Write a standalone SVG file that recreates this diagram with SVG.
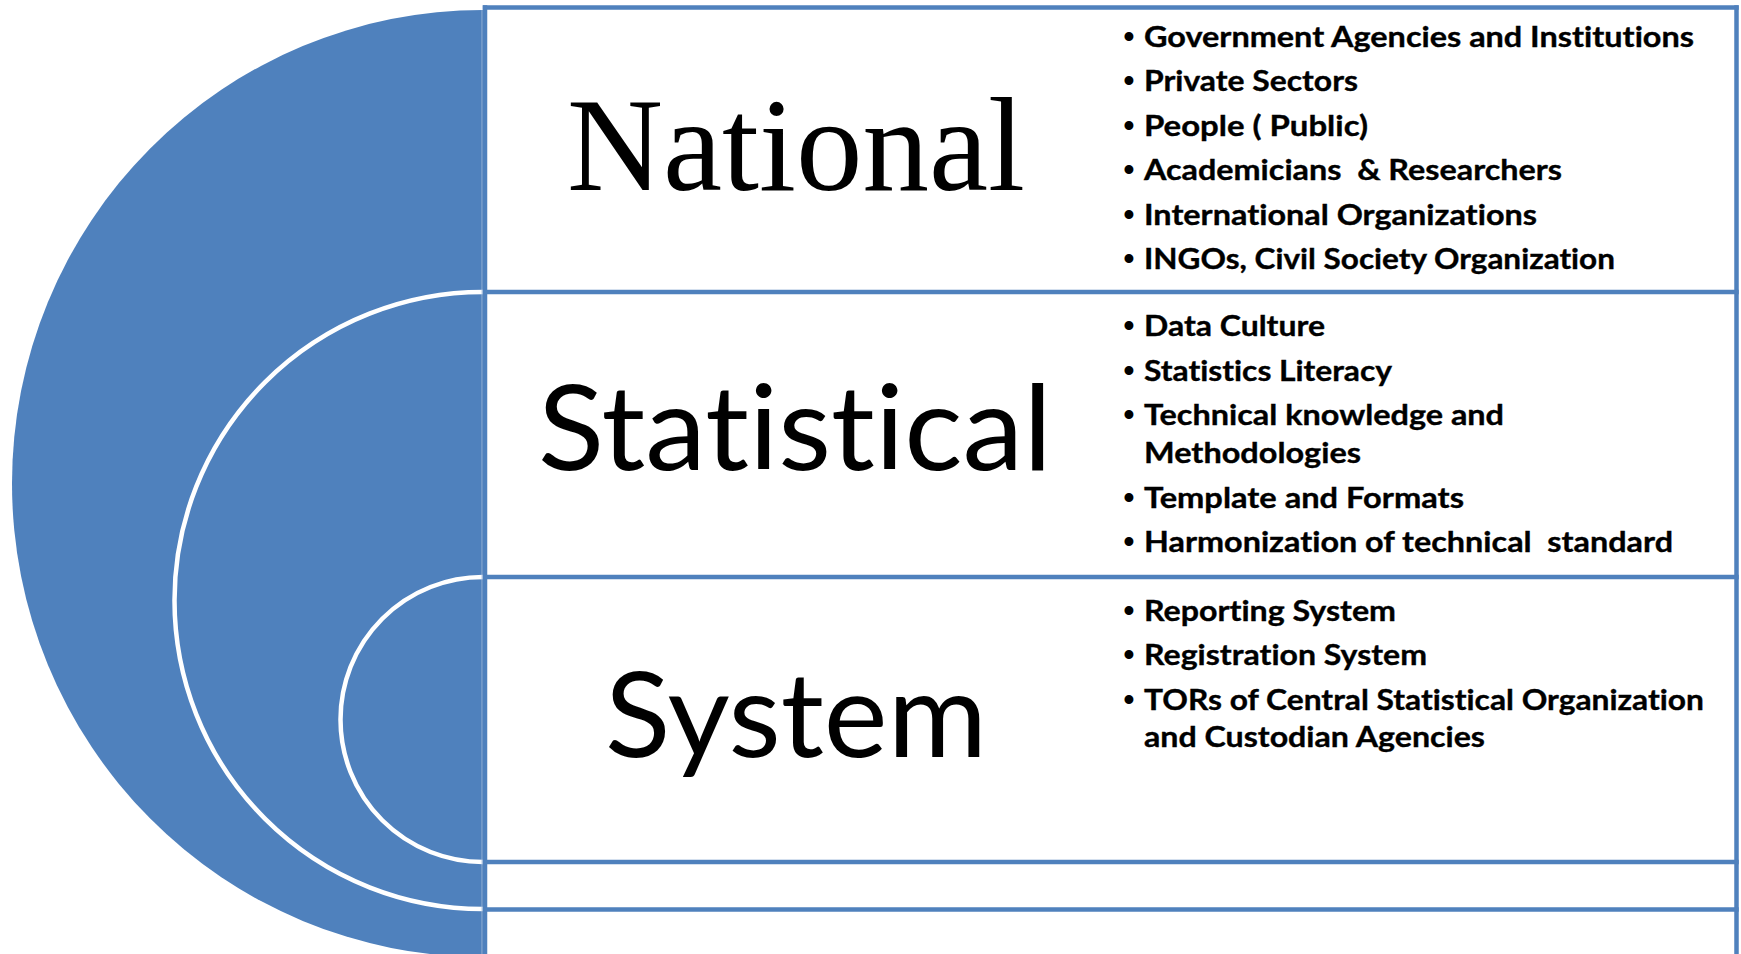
<svg xmlns="http://www.w3.org/2000/svg" width="1741" height="954" viewBox="0 0 1741 954">
  <style>
    .ring { fill: #4F81BD; stroke: none; }
    .ringEdge { fill: none; stroke: #FFFFFF; stroke-width: 4.5; }
    .box { fill: none; stroke: #4F81BD; stroke-width: 4.5; }
    .serifTitle { font-family: "Liberation Serif", "Times New Roman", serif; font-size: 133px; fill: #000; }
    .sansTitle { font-family: Lato, "Liberation Sans", sans-serif; font-size: 118px; fill: #000; font-variant-ligatures: none; }
    .item { font-family: Lato, "Liberation Sans", sans-serif; font-weight: bold; font-size: 28px; fill: #000; white-space: pre; font-variant-ligatures: none; stroke: #000; stroke-width: 0.35; }
    .bullet { font-family: "Liberation Sans", Arial, sans-serif; font-weight: bold; font-size: 31px; fill: #000; text-anchor: middle; }
  </style>
  <rect x="0" y="0" width="1741" height="954" fill="#FFFFFF"/>

  <g id="rings">
    <path id="ring-outer" class="ring" d="M 483 10 A 471 473.5 0 0 0 483 957 Z"/>
    <path id="ring-middle" class="ring" d="M 483 292 A 308.5 308.5 0 0 0 483 909 Z"/>
    <path class="ringEdge" d="M 483 292 A 308.5 308.5 0 0 0 483 909"/>
    <path id="ring-inner" class="ring" d="M 483 577 A 142.5 142.5 0 0 0 483 862 Z"/>
    <path class="ringEdge" d="M 483 577 A 142.5 142.5 0 0 0 483 862"/>
    <line x1="482" y1="10" x2="482" y2="954" stroke="#A9C0DD" stroke-width="0.8"/>
  </g>

  <g id="boxes">
    <line class="box" x1="485" y1="5.3" x2="485" y2="954"/>
    <line class="box" x1="1736.5" y1="5.3" x2="1736.5" y2="954"/>
    <line class="box" x1="482.8" y1="7.5" x2="1738.7" y2="7.5"/>
    <line class="box" x1="482.8" y1="292" x2="1738.7" y2="292"/>
    <line class="box" x1="482.8" y1="577" x2="1738.7" y2="577"/>
    <line class="box" x1="482.8" y1="862" x2="1738.7" y2="862"/>
    <line class="box" x1="482.8" y1="909.5" x2="1738.7" y2="909.5"/>
  </g>

  <g id="connectors"></g>

  <g id="node-national">
    <text class="serifTitle" x="796" y="190" text-anchor="middle">National</text>
    <text class="bullet" x="1129" y="46.5">•</text>
    <text class="item" x="1144" y="46.5" textLength="550" lengthAdjust="spacingAndGlyphs">Government Agencies and Institutions</text>
    <text class="bullet" x="1129" y="91">•</text>
    <text class="item" x="1144" y="91" textLength="214" lengthAdjust="spacingAndGlyphs">Private Sectors</text>
    <text class="bullet" x="1129" y="135.5">•</text>
    <text class="item" x="1144" y="135.5" textLength="224" lengthAdjust="spacingAndGlyphs">People ( Public)</text>
    <text class="bullet" x="1129" y="180">•</text>
    <text class="item" x="1144" y="180" textLength="418" lengthAdjust="spacingAndGlyphs">Academicians  &amp; Researchers</text>
    <text class="bullet" x="1129" y="224.5">•</text>
    <text class="item" x="1144" y="224.5" textLength="393" lengthAdjust="spacingAndGlyphs">International Organizations</text>
    <text class="bullet" x="1129" y="269">•</text>
    <text class="item" x="1144" y="269" textLength="471" lengthAdjust="spacingAndGlyphs">INGOs, Civil Society Organization</text>
  </g>

  <g id="node-statistical">
    <text class="sansTitle" x="538" y="470" textLength="514" lengthAdjust="spacingAndGlyphs">Statistical</text>
    <text class="bullet" x="1129" y="335.7">•</text>
    <text class="item" x="1144" y="335.7" textLength="181" lengthAdjust="spacingAndGlyphs">Data Culture</text>
    <text class="bullet" x="1129" y="380.5">•</text>
    <text class="item" x="1144" y="380.5" textLength="248" lengthAdjust="spacingAndGlyphs">Statistics Literacy</text>
    <text class="bullet" x="1129" y="425">•</text>
    <text class="item" x="1144" y="425" textLength="360" lengthAdjust="spacingAndGlyphs">Technical knowledge and</text>
    <text class="item" x="1144" y="462.7" textLength="217" lengthAdjust="spacingAndGlyphs">Methodologies</text>
    <text class="bullet" x="1129" y="508">•</text>
    <text class="item" x="1144" y="508" textLength="320" lengthAdjust="spacingAndGlyphs">Template and Formats</text>
    <text class="bullet" x="1129" y="551.7">•</text>
    <text class="item" x="1144" y="551.7" textLength="529" lengthAdjust="spacingAndGlyphs">Harmonization of technical  standard</text>
  </g>

  <g id="node-system">
    <text class="sansTitle" x="605" y="757" textLength="382" lengthAdjust="spacingAndGlyphs">System</text>
    <text class="bullet" x="1129" y="620.5">•</text>
    <text class="item" x="1144" y="620.5" textLength="252" lengthAdjust="spacingAndGlyphs">Reporting System</text>
    <text class="bullet" x="1129" y="665">•</text>
    <text class="item" x="1144" y="665" textLength="283" lengthAdjust="spacingAndGlyphs">Registration System</text>
    <text class="bullet" x="1129" y="709.5">•</text>
    <text class="item" x="1144" y="709.5" textLength="560" lengthAdjust="spacingAndGlyphs">TORs of Central Statistical Organization</text>
    <text class="item" x="1144" y="747" textLength="341" lengthAdjust="spacingAndGlyphs">and Custodian Agencies</text>
  </g>
</svg>
